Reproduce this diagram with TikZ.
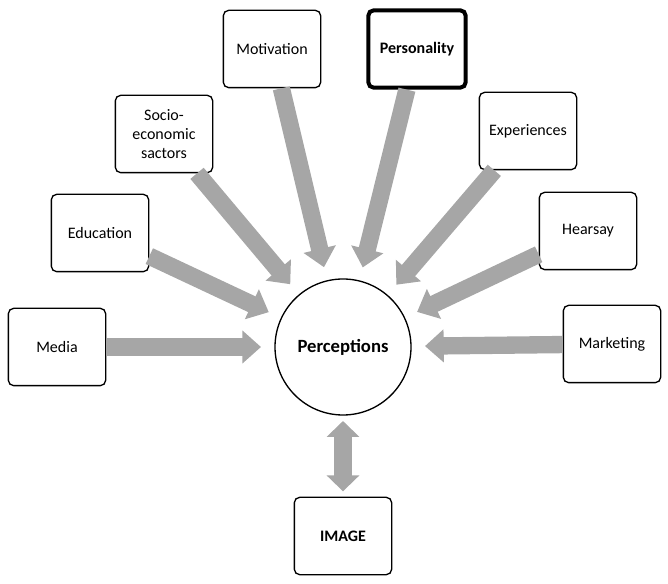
\documentclass[tikz,border=0pt]{standalone}
\usepackage{fontspec}
\setmainfont{Carlito}
\usetikzlibrary{arrows.meta}
\begin{document}
\begin{tikzpicture}[x=0.75pt,y=-0.75pt,
  box/.style={draw,rounded corners=4pt,line width=1pt,minimum width=73pt,minimum height=58pt,align=center,font=\fontsize{12}{14}\selectfont},
  arr/.style={draw=gray!70,line width=13pt,-{Triangle[width=24pt,length=14pt]},shorten >=10pt}]
\useasboundingbox (0,0) rectangle (668,584);
\node[draw,circle,line width=1pt,minimum size=102pt,font=\bfseries\fontsize{14}{16}\selectfont] (perc) at (343,347) {Perceptions};
\node[box] (media) at (57,347) {Media};
\node[box] (edu) at (100,233) {Education};
\node[box] (socio) at (164,134) {Socio-\\economic\\sactors};
\node[box] (mot) at (272,49) {Motivation};
\node[box,line width=3pt,font=\bfseries\fontsize{12}{14}\selectfont] (pers) at (417,49) {Personality};
\node[box] (exp) at (528,131) {Experiences};
\node[box] (hear) at (588,231) {Hearsay};
\node[box] (mark) at (612,344) {Marketing};
\node[box,font=\bfseries\fontsize{12}{14}\selectfont] (img) at (343,536) {IMAGE};
\foreach \n in {media,edu,socio,mot,pers,exp,hear,mark}
  \draw[arr] (\n) -- (perc);
\draw[draw=gray!70,line width=13pt,{Triangle[width=24pt,length=12pt]}-{Triangle[width=24pt,length=12pt]},shorten <=4pt,shorten >=4pt] (perc) -- (img);
\end{tikzpicture}
\end{document}
